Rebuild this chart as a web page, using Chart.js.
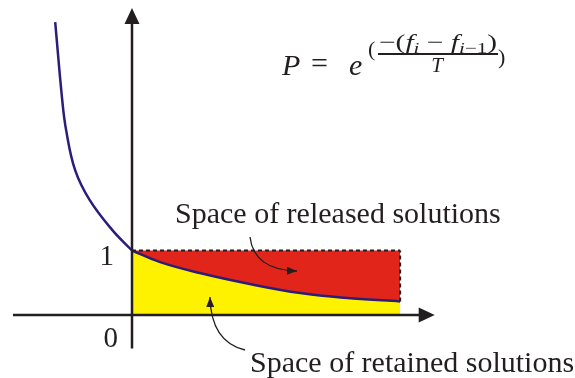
<!DOCTYPE html>
<html>
<head>
<meta charset="utf-8">
<script src="https://cdn.jsdelivr.net/npm/chart.js@4/dist/chart.umd.min.js"></script>
<style>
  html, body { margin: 0; padding: 0; background: #ffffff; }
  #wrap { width: 575px; height: 378px; }
</style>
</head>
<body>
<div id="wrap"><canvas id="chart" width="575" height="378"></canvas></div>
<script>
'use strict';

// curve left of the P axis (x < 0)
const leftX = [-1.20, -1.09, -1.03, -0.89, -0.66, -0.31, 0];
const leftY = [4.54, 3.33, 2.87, 2.25, 1.78, 1.32, 1.0];

// curve inside the solution space (0 .. end)
const rightX = [0, 0.44, 1.06, 1.84, 2.63, 3.41, 4.19];
const rightY = [1.0, 0.82, 0.65, 0.48, 0.34, 0.26, 0.21];

// upper bound of the space (P = 1)
const ceilingY = [1, 1, 1, 1, 1, 1, 1];

// axis extents and tick labels
const xAxisRange = [-1.86, 4.73];
const yAxisRange = [-0.52, 4.76];
const tickLabels = ['0', '1'];

const labels = {
    released: 'Space of released solutions',
    retained: 'Space of retained solutions'
};

const colors = {
    red: '#e1251b',
    yellow: '#fff200',
    curve: '#2b1d7a',
    ink: '#231f20'
};

const toPoints = (xs, ys) => xs.map((x, i) => ({ x: x, y: ys[i] }));

function arrowHead(ctx, fromX, fromY, tipX, tipY, len, half) {
    const a = Math.atan2(tipY - fromY, tipX - fromX);
    ctx.beginPath();
    ctx.moveTo(tipX, tipY);
    ctx.lineTo(tipX - len * Math.cos(a) + half * Math.sin(a), tipY - len * Math.sin(a) - half * Math.cos(a));
    ctx.lineTo(tipX - len * Math.cos(a) - half * Math.sin(a), tipY - len * Math.sin(a) + half * Math.cos(a));
    ctx.closePath();
    ctx.fill();
}

function curvedArrow(ctx, x0, y0, cx, cy, x1, y1) {
    ctx.beginPath();
    ctx.moveTo(x0, y0);
    ctx.quadraticCurveTo(cx, cy, x1, y1);
    ctx.stroke();
    arrowHead(ctx, cx, cy, x1, y1, 10, 4);
}

function runsWidth(ctx, parts) {
    return parts.reduce((w, p) => { ctx.font = p.font; return w + ctx.measureText(p.t).width; }, 0);
}

// draws runs of text squeezed/stretched into the given width
function runs(ctx, x, y, width, parts) {
    const k = width / runsWidth(ctx, parts);
    ctx.save();
    ctx.translate(x, y);
    ctx.scale(k, 1);
    let cx = 0;
    parts.forEach(p => {
        ctx.font = p.font;
        ctx.fillText(p.t, cx, p.dy || 0);
        cx += ctx.measureText(p.t).width;
    });
    ctx.restore();
}

const decorations = {
    id: 'decorations',
    afterDatasetsDraw(chart) {
        const ctx = chart.ctx;
        const xs = chart.scales.x;
        const ys = chart.scales.y;
        const ox = xs.getPixelForValue(0);
        const oy = ys.getPixelForValue(0);

        ctx.save();
        ctx.strokeStyle = colors.ink;
        ctx.fillStyle = colors.ink;

        // axes
        const xl = xs.getPixelForValue(xAxisRange[0]);
        const xr = xs.getPixelForValue(xAxisRange[1]);
        const yb = ys.getPixelForValue(yAxisRange[0]);
        const yt = ys.getPixelForValue(yAxisRange[1]);
        ctx.lineWidth = 2.5;
        ctx.beginPath();
        ctx.moveTo(xl, oy); ctx.lineTo(xr - 10, oy);
        ctx.moveTo(ox, yb); ctx.lineTo(ox, yt + 10);
        ctx.stroke();
        arrowHead(ctx, xl, oy, xr, oy, 16, 7.5);
        arrowHead(ctx, ox, yb, ox, yt, 16, 7.5);

        // tick labels
        ctx.font = '29px "Liberation Serif", serif';
        ctx.textAlign = 'right';
        ctx.textBaseline = 'alphabetic';
        ctx.fillText(tickLabels[0], ox - 14, oy + 32);
        ctx.fillText(tickLabels[1], ox - 18, ys.getPixelForValue(1) + 15);

        // area labels
        ctx.textAlign = 'left';
        ctx.font = '30px "Liberation Serif", serif';
        ctx.fillText(labels.released, 175, 223);
        ctx.fillText(labels.retained, 250, 372);

        // arrows to the areas
        ctx.lineWidth = 1.3;
        curvedArrow(ctx, 250, 237, 254, 270, 297, 271);
        curvedArrow(ctx, 245, 350, 211, 342, 210, 297);

        // formula
        const it30 = 'italic 30px "Liberation Serif", serif';
        const rm30 = '30px "Liberation Serif", serif';
        const it21 = 'italic 21px "Liberation Serif", serif';
        const rm21 = '21px "Liberation Serif", serif';
        const it15 = 'italic 15px "Liberation Serif", serif';
        const rm15 = '15px "Liberation Serif", serif';
        ctx.font = it30;
        ctx.fillText('P', 282, 75);
        ctx.font = rm30;
        ctx.fillText('=', 311, 73);
        ctx.font = it30;
        ctx.fillText('e', 349, 75);
        ctx.font = '22px "Liberation Serif", serif';
        ctx.fillText('(', 368, 56);
        runs(ctx, 379, 49, 118, [
            { t: '\u2212(', font: rm21 },
            { t: 'f', font: it21 },
            { t: 'i', font: it15, dy: 4 },
            { t: ' \u2212 ', font: rm21 },
            { t: 'f', font: it21 },
            { t: 'i', font: it15, dy: 4 },
            { t: '\u22121', font: rm15, dy: 4 },
            { t: ')', font: rm21 }
        ]);
        ctx.lineWidth = 1.8;
        ctx.beginPath();
        ctx.moveTo(378, 54); ctx.lineTo(498, 54);
        ctx.stroke();
        ctx.font = it21;
        ctx.textAlign = 'center';
        ctx.fillText('T', 437, 72);
        ctx.textAlign = 'left';
        ctx.font = '22px "Liberation Serif", serif';
        ctx.fillText(')', 498, 64);

        ctx.restore();
    }
};

new Chart(document.getElementById('chart'), {
    type: 'line',
    data: {
        datasets: [{
            label: 'edge',
            data: [{ x: rightX[rightX.length - 1], y: rightY[rightY.length - 1] }, { x: rightX[rightX.length - 1], y: 1 }],
            borderColor: colors.ink,
            borderWidth: 2,
            borderDash: [4, 3],
            pointRadius: 0,
            fill: false
        }, {
            label: 'released',
            data: toPoints(rightX, ceilingY),
            borderColor: colors.ink,
            borderWidth: 2,
            borderDash: [4, 3],
            backgroundColor: colors.red,
            pointRadius: 0,
            fill: { target: 3 }
        }, {
            label: 'curveLeft',
            data: toPoints(leftX, leftY),
            borderColor: colors.curve,
            borderWidth: 2.5,
            tension: 0.4,
            pointRadius: 0,
            fill: false
        }, {
            label: 'retained',
            data: toPoints(rightX, rightY),
            borderColor: colors.curve,
            borderWidth: 2.5,
            backgroundColor: colors.yellow,
            tension: 0.4,
            pointRadius: 0,
            fill: 'origin'
        }]
    },
    options: {
        responsive: false,
        animation: false,
        layout: { padding: 0 },
        scales: {
            x: { type: 'linear', min: -2.0625, max: 6.922, display: false },
            y: { type: 'linear', min: -0.977, max: 4.884, display: false }
        },
        plugins: {
            legend: { display: false },
            tooltip: { enabled: false },
            filler: { drawTime: 'beforeDatasetsDraw' }
        }
    },
    plugins: [decorations]
});
</script>
</body>
</html>
